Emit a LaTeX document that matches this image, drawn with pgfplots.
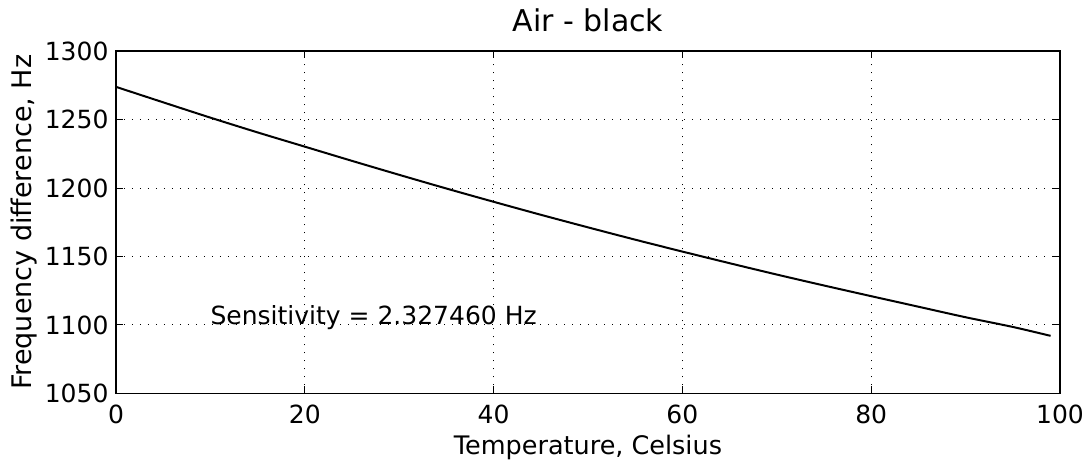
\documentclass[border=0pt]{standalone}
\usepackage{pgfplots}
\pgfplotsset{compat=1.18}
\usepackage{fontspec}
\setmainfont{DejaVu Sans}
\begin{document}
\begin{tikzpicture}
\begin{axis}[
  scale only axis,
  width=944pt, height=342pt,
  xmin=0, xmax=100, ymin=1050, ymax=1300,
  xtick={0,20,40,60,80,100},
  ytick={1050,1100,1150,1200,1250,1300},
  tick align=inside,
  major tick length=7pt,
  tick style={black, line width=1pt},
  axis line style={line width=1.6pt},
  grid=major,
  major grid style={black, line width=1pt, dash pattern=on 1.2pt off 6.8pt},
  /pgf/number format/assume math mode=true,
  /pgf/number format/1000 sep={},
  ticklabel style={font=\fontsize{25}{29}\selectfont},
  xticklabel style={anchor=base, yshift=-30pt},
  yticklabel style={anchor=east, xshift=-4pt},
  title={Air - black},
  title style={font=\fontsize{30}{34}\selectfont, at={(axis description cs:0.5,1.039)}, anchor=base},
  xlabel={Temperature, Celsius},
  xlabel style={font=\fontsize{25.5}{30}\selectfont, at={(axis description cs:0.5,-0.178)}, anchor=base},
  ylabel={Frequency difference, Hz},
  ylabel style={font=\fontsize{27}{31}\selectfont, at={(axis description cs:-0.089,0.5)}, anchor=base},
]
\addplot[black, line width=2pt, smooth] coordinates {
(0,1274.0) (5,1262.7) (10,1251.5) (15,1240.7) (20,1230.3) (25,1219.9)
(30,1209.7) (35,1199.7) (40,1190.0) (45,1180.5) (50,1171.3) (55,1162.3)
(60,1153.6) (65,1145.1) (70,1136.8) (75,1128.8) (80,1121.0) (85,1113.3)
(90,1105.6) (95,1098.5) (99,1092.0)
};
\node[anchor=base west, font=\fontsize{25}{30}\selectfont, inner sep=0pt] at (axis cs:10,1100) {Sensitivity = 2.327460 Hz};
\end{axis}
\pgfresetboundingbox
\path (-116pt,-67.7pt) rectangle (968pt,393.3pt);
\end{tikzpicture}
\end{document}
